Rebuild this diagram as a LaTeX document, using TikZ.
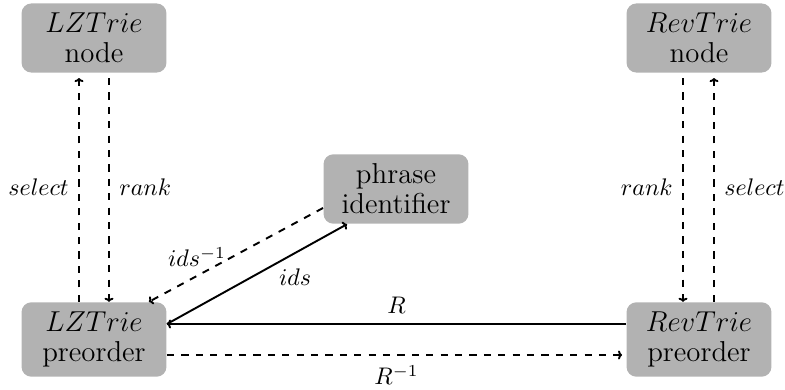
\documentclass[tikz,border=0pt]{standalone}
\usetikzlibrary{arrows.meta}
\begin{document}
\begin{tikzpicture}[x=1pt,y=-1pt,
  box/.style={scale=2.4, fill=black!30, rounded corners=10pt, minimum width=60.4pt, align=center,
    inner sep=4pt, font=\fontsize{12}{12.5}\selectfont},
  lbl/.style={scale=2.4, font=\normalsize, inner sep=3.33pt},
  conn/.style={line width=1.92pt, -{To[length=4pt,width=9pt]}},
  dconn/.style={conn, dash pattern=on 7.2pt off 7.2pt}]
\useasboundingbox (0,0) rectangle (785,390);
\node[box] (LZn) at (94,38) {$LZTrie$\\node};
\node[box] (RVn) at (699,38) {$RevTrie$\\node};
\node[box] (Phr) at (396,189) {phrase\\identifier};
\node[box] (LZp) at (94,339.5) {$LZTrie$\\preorder};
\node[box] (RVp) at (699,339.5) {$RevTrie$\\preorder};
% LZTrie verticals
\draw[dconn, shorten >=5pt] ([xshift=-15pt]LZp.north) -- ([xshift=-15pt]LZn.south)
  node[lbl, midway, left] {$select$};
\draw[dconn, shorten <=5pt] ([xshift=15pt]LZn.south) -- ([xshift=15pt]LZp.north)
  node[lbl, midway, right] {$rank$};
% RevTrie verticals
\draw[dconn, shorten <=5pt] ([xshift=-16pt]RVn.south) -- ([xshift=-16pt]RVp.north)
  node[lbl, midway, left] {$rank$};
\draw[dconn, shorten >=5pt] ([xshift=15pt]RVp.north) -- ([xshift=15pt]RVn.south)
  node[lbl, midway, right] {$select$};
% R and R^{-1}
\draw[conn] ([yshift=15.5pt]RVp.west) -- ([yshift=15.5pt]LZp.east)
  node[lbl, midway, above] {$R$};
\draw[dconn, shorten >=4pt] ([yshift=-15.5pt]LZp.east) -- ([yshift=-15.5pt]RVp.west)
  node[lbl, midway, below] {$R^{-1}$};
% ids and ids^{-1}
\draw[conn] ([yshift=15.5pt]LZp.east) -- ([xshift=-49pt]Phr.south)
  node[lbl, pos=0.6, below right, inner sep=0.8pt] {$ids$};
\draw[dconn] ([yshift=-19pt]Phr.west) -- ([xshift=-18pt]LZp.north east)
  node[lbl, pos=0.6, anchor=south east, inner sep=0pt, xshift=4pt, yshift=-2pt] {$ids^{-1}$};
\end{tikzpicture}
\end{document}
